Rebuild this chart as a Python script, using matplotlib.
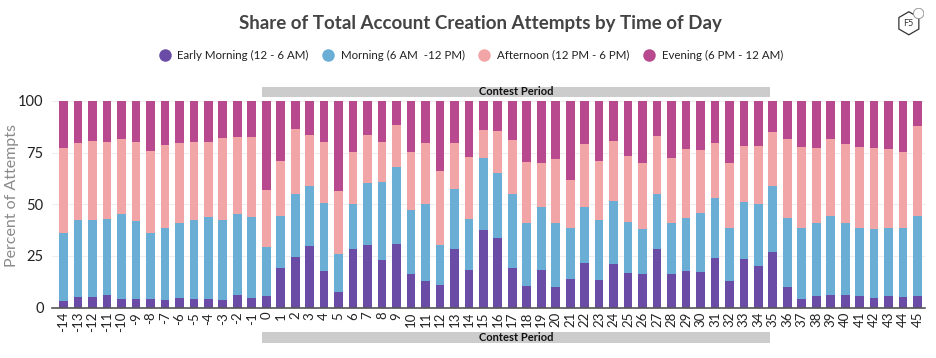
import matplotlib
matplotlib.use("Agg")
import matplotlib.pyplot as plt
import matplotlib.transforms as mtransforms
from matplotlib.patches import Rectangle, RegularPolygon, Circle
from matplotlib.lines import Line2D
import numpy as np

plt.rcParams["font.family"] = ["Lato", "DejaVu Sans"]

# days relative to the contest start
days = list(range(-14, 46))

# share of attempts (%) per time-of-day bucket
early_morning = [3.4, 5.2, 5.2, 6.0, 4.4, 4.4, 4.4, 3.9, 4.8, 4.4, 4.4, 3.9, 6.0, 4.8,
                 5.5, 19.4, 24.7, 30.0, 17.6, 7.8, 28.3, 30.4, 23.1, 30.9, 16.2, 13.1,
                 11.0, 28.3, 18.3, 37.5, 33.9, 19.2, 10.7, 18.4, 9.9, 14.1, 21.6, 13.6,
                 21.3, 17.0, 16.5, 28.3, 16.5, 17.9, 17.3, 24.2, 12.8, 23.7, 20.2, 27.0,
                 10.2, 4.4, 5.5, 6.3, 6.3, 5.5, 4.8, 5.5, 5.2, 5.8]
morning = [32.9, 37.3, 37.3, 37.0, 41.0, 37.3, 31.5, 34.4, 36.2, 37.8, 39.2, 38.3, 39.1, 38.8,
           23.9, 24.7, 30.4, 29.0, 33.0, 18.0, 21.8, 29.7, 37.8, 37.3, 30.8, 36.8,
           19.4, 29.2, 24.7, 34.7, 31.4, 35.6, 30.0, 30.4, 30.8, 24.2, 27.2, 28.9,
           30.1, 24.4, 21.3, 26.8, 24.5, 25.4, 28.6, 28.6, 25.5, 27.2, 29.9, 31.6,
           33.1, 33.9, 35.5, 37.8, 34.7, 33.1, 33.0, 32.8, 33.4, 38.6]
afternoon = [41.1, 37.3, 38.1, 37.1, 35.9, 38.4, 39.9, 40.1, 38.5, 37.9, 36.5, 39.9, 37.3, 38.8,
             27.5, 27.0, 31.3, 24.7, 29.7, 30.7, 25.0, 23.6, 19.2, 20.2, 28.1, 29.9,
             35.8, 22.3, 30.0, 13.9, 20.2, 26.1, 29.7, 21.2, 31.0, 23.4, 30.4, 28.6,
             29.2, 31.9, 32.2, 27.8, 31.5, 33.6, 30.2, 26.7, 31.8, 27.1, 27.9, 26.1,
             38.0, 39.4, 36.4, 37.6, 38.2, 39.1, 39.4, 38.6, 36.8, 43.6]
evening = [22.6, 20.2, 19.4, 19.9, 18.7, 19.9, 24.2, 21.6, 20.5, 19.9, 19.9, 17.9, 17.6, 17.6,
           43.1, 28.9, 13.6, 16.3, 19.7, 43.5, 24.9, 16.3, 19.9, 11.6, 24.9, 20.2,
           33.8, 20.2, 27.0, 13.9, 14.5, 19.1, 29.6, 30.0, 28.3, 38.3, 20.8, 28.9,
           19.4, 26.7, 30.0, 17.1, 27.5, 23.1, 23.9, 20.5, 29.9, 22.0, 22.0, 15.3,
           18.7, 22.3, 22.6, 18.3, 20.8, 22.3, 22.8, 23.1, 24.6, 12.0]

series_labels = ["Early Morning (12 - 6 AM)", "Morning (6 AM  -12 PM)",
                 "Afternoon (12 PM - 6 PM)", "Evening (6 PM - 12 AM)"]
colors = ["#6a4ca7", "#6aaed6", "#f2a5a6", "#b8498e"]
contest_start, contest_end = -0.3, 34.8

fig = plt.figure(figsize=(9.36, 3.58), dpi=100)
ax = fig.add_axes([0.0556, 0.1405, 0.9324, 0.578])

bottom = np.zeros(len(days))
for vals, col in zip([early_morning, morning, afternoon, evening], colors):
    ax.bar(days, vals, bottom=bottom, width=0.6, color=col, zorder=2)
    bottom += np.array(vals)

ax.set_xlim(-14.8, 45.5)
ax.set_ylim(0, 100)
ax.set_yticks([0, 25, 50, 75, 100])
ax.set_xticks(days)
ax.set_xticklabels([str(d) for d in days], rotation=90, fontsize=9.5, color="#222222")
ax.tick_params(axis="y", length=0, labelsize=10.5, colors="#222222", pad=6)
ax.tick_params(axis="x", length=0, pad=3)
ax.grid(axis="y", color="#eeeeee", lw=0.8, zorder=0)
for s in ["top", "right", "left"]:
    ax.spines[s].set_visible(False)
ax.spines["bottom"].set_color("#555555")
ax.spines["bottom"].set_linewidth(1.2)
ax.set_ylabel("Percent of Attempts", fontsize=11.5, color="#8a8a8a")
ax.yaxis.set_label_coords(-0.038, 0.54)

# contest period bands above and below the plot
trans = mtransforms.blended_transform_factory(ax.transData, ax.transAxes)
for y0, y1 in [(1.019, 1.068), (-0.17, -0.117)]:
    ax.add_patch(Rectangle((contest_start, y0), contest_end - contest_start, y1 - y0,
                           transform=trans, facecolor="#cccccc", edgecolor="none",
                           clip_on=False))
    ax.text((contest_start + contest_end) / 2, (y0 + y1) / 2, "Contest Period",
            transform=trans, ha="center", va="center", fontsize=8,
            fontweight="bold", color="#111111")

fig.text(0.513, 0.935, "Share of Total Account Creation Attempts by Time of Day",
         ha="center", va="center", fontsize=13.5, fontweight="bold", color="#444444")

handles = [Line2D([], [], marker="o", linestyle="none", markersize=9,
                  markerfacecolor=c, markeredgecolor="none") for c in colors]
fig.legend(handles, series_labels, loc="center", bbox_to_anchor=(0.50, 0.846),
           ncol=4, frameon=False, fontsize=8.3, handletextpad=0.1, columnspacing=0.7,
           labelcolor="#222222")

# small F5 badge in the corner
logo = fig.add_axes([0.955, 0.87, 0.032, 0.13])
logo.set_xlim(-1.3, 1.3)
logo.set_ylim(-1.3, 1.3)
logo.set_aspect("equal")
logo.axis("off")
logo.add_patch(RegularPolygon((0, 0), 6, radius=1.0, orientation=0, fill=False,
                              edgecolor="#333333", lw=0.9))
logo.add_patch(Circle((0.85, 0.85), 0.45, facecolor="white", edgecolor="#999999", lw=0.7))
logo.text(-0.05, -0.05, "F5", ha="center", va="center", fontsize=6.5, color="#333333")

fig.savefig("out.png", dpi=100, facecolor="white")
